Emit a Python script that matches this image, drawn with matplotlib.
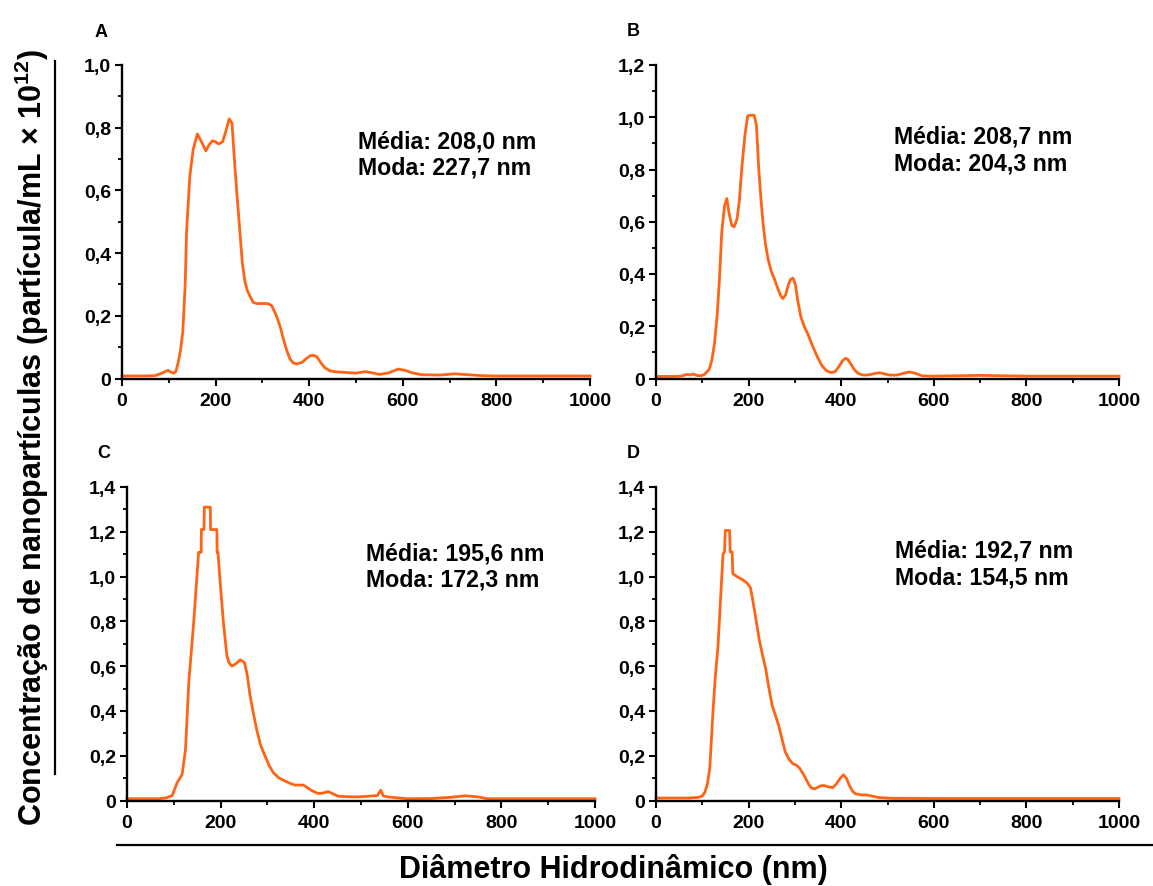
import matplotlib
matplotlib.use("Agg")
import matplotlib.pyplot as plt
from matplotlib.ticker import MultipleLocator, FuncFormatter
from matplotlib.lines import Line2D

plt.rcParams['font.family'] = ['Liberation Sans', 'DejaVu Sans']
plt.rcParams['font.weight'] = 'bold'
plt.rcParams['mathtext.fontset'] = 'custom'
plt.rcParams['mathtext.bf'] = 'Liberation Sans:bold'
plt.rcParams['mathtext.rm'] = 'Liberation Sans:bold'

# Panel A
a_x = [0, 40, 70, 80, 90, 98, 105, 110, 115, 120, 125, 130, 135, 138, 145, 152, 161, 170, 179,
       186, 193, 200, 206, 215, 222, 229, 235, 241, 246, 252, 257, 263, 268, 273, 280, 288, 300,
       312, 320, 330, 338, 345, 352, 359, 366, 373, 385, 395, 403, 409, 416, 425, 433, 445, 460,
       480, 500, 520, 535, 550, 570, 590, 605, 620, 640, 680, 710, 740, 770, 800, 900, 1000]
a_y = [0.008, 0.008, 0.009, 0.014, 0.02, 0.026, 0.02, 0.017, 0.022, 0.05, 0.09, 0.15, 0.30, 0.47,
       0.647, 0.73, 0.78, 0.755, 0.726, 0.745, 0.758, 0.755, 0.748, 0.755, 0.79, 0.828, 0.815,
       0.68, 0.58, 0.466, 0.37, 0.306, 0.28, 0.264, 0.243, 0.239, 0.239, 0.239, 0.232, 0.20,
       0.165, 0.125, 0.09, 0.062, 0.05, 0.046, 0.052, 0.065, 0.073, 0.074, 0.07, 0.05, 0.035,
       0.024, 0.021, 0.019, 0.017, 0.022, 0.018, 0.013, 0.018, 0.03, 0.026, 0.018, 0.012, 0.011,
       0.015, 0.012, 0.009, 0.008, 0.008, 0.008]

# Panel B
b_x = [0, 40, 55, 65, 75, 80, 90, 98, 105, 115, 121, 126, 132, 137, 142, 148, 153, 158, 164,
       169, 175, 180, 185, 192, 198, 204, 212, 217, 222, 227, 231, 236, 242, 249, 256, 264, 270,
       274, 280, 286, 291, 296, 301, 306, 313, 320, 328, 338, 348, 358, 368, 377, 386, 395, 403,
       409, 414, 420, 428, 436, 445, 455, 465, 475, 483, 492, 505, 520, 535, 547, 560, 575, 600,
       700, 800, 1000]
b_y = [0.008, 0.008, 0.009, 0.015, 0.014, 0.017, 0.011, 0.011, 0.016, 0.035, 0.074, 0.13, 0.24,
       0.38, 0.56, 0.66, 0.689, 0.63, 0.585, 0.581, 0.61, 0.68, 0.80, 0.93, 1.005, 1.008, 1.008,
       0.97, 0.80, 0.68, 0.597, 0.52, 0.457, 0.41, 0.38, 0.34, 0.315, 0.306, 0.32, 0.36, 0.38,
       0.384, 0.36, 0.30, 0.235, 0.20, 0.17, 0.125, 0.085, 0.05, 0.03, 0.023, 0.025, 0.045, 0.068,
       0.077, 0.074, 0.058, 0.035, 0.02, 0.014, 0.013, 0.016, 0.02, 0.022, 0.018, 0.013, 0.013,
       0.02, 0.025, 0.02, 0.01, 0.009, 0.012, 0.009, 0.009]

# Panel C
c_x = [0, 40, 68, 85, 96.5, 107, 117.7, 125, 132, 142.5, 153, 158.5, 159, 164.5, 165.2, 178,
       178.6, 192, 192.6, 194.3, 200, 206, 213.5, 218, 224, 232, 242, 251, 257, 263, 270, 277,
       285, 295, 304, 312.8, 325, 337.6, 350, 359, 376.6, 385, 394, 408.5, 420, 430, 440, 451,
       470, 493.6, 522, 535, 542, 548, 560, 600, 650, 690, 723, 750, 770, 850, 1000]
c_y = [0.008, 0.008, 0.008, 0.012, 0.022, 0.079, 0.116, 0.228, 0.527, 0.795, 1.108, 1.108, 1.21,
       1.21, 1.31, 1.31, 1.21, 1.21, 1.108, 1.108, 0.95, 0.795, 0.646, 0.615, 0.60, 0.61, 0.628,
       0.616, 0.56, 0.467, 0.39, 0.318, 0.25, 0.198, 0.155, 0.124, 0.10, 0.087, 0.075, 0.069,
       0.069, 0.058, 0.045, 0.031, 0.034, 0.04, 0.03, 0.019, 0.017, 0.016, 0.02, 0.022, 0.046,
       0.02, 0.015, 0.008, 0.009, 0.014, 0.021, 0.016, 0.008, 0.008, 0.008]

# Panel D
d_x = [0, 50, 70, 91.5, 100, 105.7, 111, 116, 123, 128, 134, 141, 144.7, 148, 149.6, 158.9, 160.3,
       164.5, 166, 176.6, 188, 198, 204, 208.5, 215, 222.7, 230, 237, 244, 251, 258, 265, 272,
       279.4, 287, 295.7, 303, 310, 316, 322, 329, 336, 343, 350, 356, 362.4, 370, 382, 390, 398,
       405, 411, 417.7, 425, 432, 445, 456.7, 470, 481.6, 510, 600, 800, 1000]
d_y = [0.011, 0.011, 0.011, 0.014, 0.02, 0.037, 0.075, 0.14, 0.395, 0.55, 0.692, 0.96, 1.10,
       1.11, 1.206, 1.206, 1.11, 1.11, 1.012, 0.998, 0.985, 0.968, 0.95, 0.90, 0.82, 0.722, 0.65,
       0.588, 0.50, 0.424, 0.38, 0.335, 0.275, 0.216, 0.185, 0.164, 0.158, 0.145, 0.125, 0.104,
       0.075, 0.055, 0.052, 0.06, 0.066, 0.067, 0.062, 0.058, 0.075, 0.10, 0.115, 0.10, 0.067,
       0.04, 0.029, 0.025, 0.024, 0.018, 0.013, 0.01, 0.009, 0.009, 0.009]

letters = ['A', 'B', 'C', 'D']
ymaxes = [1.0, 1.2, 1.4, 1.4]
medias = ['208,0', '208,7', '195,6', '192,7']
modas = ['227,7', '204,3', '172,3', '154,5']

W, H = 1153, 887
line_color = '#FF6414'

fig = plt.figure(figsize=(W / 100, H / 100), dpi=100)

# axes boxes in pixels: left, top, width, height
boxes = [(122, 66, 468, 313.5), (656, 66, 463, 313.5),
         (127, 488, 468, 313.5), (656, 488, 463, 313.5)]
letter_pos = [(95, 37), (627, 36), (97, 458), (627, 458)]
text_pos = [(358, 148), (894, 144), (366, 560), (895, 558)]

def fmt(v, pos):
    if abs(v) < 1e-9:
        return '0'
    return ('%.1f' % v).replace('.', ',')

series = [(a_x, a_y), (b_x, b_y), (c_x, c_y), (d_x, d_y)]
for i, (xs, ys) in enumerate(series):
    l, t, w, h = boxes[i]
    ax = fig.add_axes([l / W, 1 - (t + h) / H, w / W, h / H])
    ax.plot(xs, ys, color=line_color, lw=2.0, solid_joinstyle='round', clip_on=False)
    ax.set_xlim(0, 1000)
    ax.set_ylim(0, ymaxes[i])
    ax.xaxis.set_major_locator(MultipleLocator(200))
    ax.xaxis.set_minor_locator(MultipleLocator(100))
    ax.yaxis.set_major_locator(MultipleLocator(0.2))
    ax.yaxis.set_minor_locator(MultipleLocator(0.1))
    ax.yaxis.set_major_formatter(FuncFormatter(fmt))
    ax.spines['top'].set_visible(False)
    ax.spines['right'].set_visible(False)
    ax.spines['left'].set_linewidth(1.7)
    ax.spines['bottom'].set_linewidth(1.7)
    ax.tick_params(which='major', direction='out', length=5, width=1.5, labelsize=14)
    ax.tick_params(axis='y', which='major', pad=3)
    ax.tick_params(axis='x', which='major', pad=5)
    ax.tick_params(which='minor', direction='out', length=3, width=1.3)
    for lab in ax.get_xticklabels() + ax.get_yticklabels():
        lab.set_fontweight('bold')
    ax.patch.set_alpha(0)

    lx, ly = letter_pos[i]
    fig.text(lx / W, 1 - ly / H, letters[i], fontsize=13, fontweight='bold', ha='left', va='baseline')
    tx, ty = text_pos[i]
    fig.text(tx / W, 1 - ty / H, 'Média: %s nm' % medias[i], fontsize=16.7, fontweight='bold',
             ha='left', va='baseline')
    fig.text(tx / W, 1 - (ty + 26) / H, 'Moda: %s nm' % modas[i], fontsize=16.7, fontweight='bold',
             ha='left', va='baseline')

fig.text(613 / W, 1 - 870 / H, 'Diâmetro Hidrodinâmico (nm)', fontsize=22,
         fontweight='bold', ha='center', va='center')
fig.text(32 / W, 1 - 437 / H, r'Concentração de nanopartículas (partícula/mL × 10$^{\mathbf{12}}$)',
         fontsize=22, fontweight='bold', rotation=90, ha='center', va='center')

# rules beside the shared labels
fig.add_artist(Line2D([55 / W, 55 / W], [1 - 62 / H, 1 - 775 / H], color='black', lw=1.6,
                      transform=fig.transFigure))
fig.add_artist(Line2D([117 / W, 1153 / W], [1 - 846 / H, 1 - 846 / H], color='black', lw=1.6,
                      transform=fig.transFigure))

fig.savefig('out.png', dpi=100, facecolor='white')
